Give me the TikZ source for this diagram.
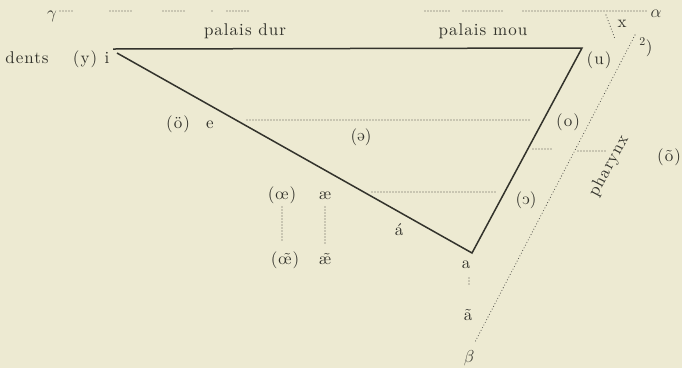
\documentclass[tikz,border=0pt]{standalone}
\usepackage{fontspec}
\usepackage{graphicx}
\newfontfamily\diafont{lmroman10-regular.otf}[LetterSpace=6]
\definecolor{paper}{HTML}{EDEAD2}
\definecolor{ink}{HTML}{33332C}
\begin{document}
\begin{tikzpicture}[x=1pt,y=-1pt,
  lab/.style={inner sep=0pt, anchor=base, text=ink, font=\diafont\fontsize{17}{20}\selectfont},
  edge/.style={draw=ink, line width=1.5pt, line join=miter},
  dots/.style={draw=ink!85, line width=1.1pt, line cap=round, dash pattern=on 0pt off 3pt},
]
\fill[paper] (0,0) rectangle (682,368);
\useasboundingbox (0,0) rectangle (682,368);

% triangle
\coordinate (Itop) at (113,49);
\coordinate (Ibot) at (117,53);
\coordinate (U) at (582,48);
\coordinate (A) at (472,253);
\draw[edge] (Itop) -- (U) -- (A) -- (Ibot);

% labels
\node[lab] (dents) at (27,63) {dents};
\node[lab] (y) at (85,63) {(y)};
\node[lab] (i) at (107,63) {i};
\node[lab] (pdur) at (245,35) {palais dur};
\node[lab] (pmou) at (483,35) {palais mou};
\node[lab] (gamma) at (52,18) {$\gamma$};
\node[lab] (alpha) at (656,17) {$\alpha$};
\node[lab] (xx) at (622,27) {x};
\node[lab] (two) at (646,52) {\textsuperscript{2})};
\node[lab] (u) at (599,64) {(u)};
\node[lab] (o) at (568,126) {(o)};
\node[lab] (otilde) at (669,161) {(\~o)};
\node[lab] (oumlaut) at (178,128) {(\"o)};
\node[lab] (e) at (210,128) {e};
\node[lab] (schwa) at (361,141) {(\rotatebox[origin=c]{180}{e})};
\node[lab] (oe) at (282,199) {(\oe)};
\node[lab] (ae) at (325,199) {\ae};
\node[lab] (openo) at (526,204) {(\reflectbox{c})};
\node[lab] (aacute) at (399,235) {\'a};
\node[lab] (oetilde) at (285,264) {(\~{\oe})};
\node[lab] (aetilde) at (325,264) {\~{\ae}};
\node[lab] (a) at (466,268) {a};
\node[lab] (atilde) at (468,320) {\~a};
\node[lab] (beta) at (469,362) {$\beta$};
\node[lab, rotate=62, anchor=center] (phar) at (609,166) {pharynx};

% top dotted line
\foreach \s/\t in {60/75,110/133,163/187,212/214,227/250,425/450,463/503,523/647}
  \draw[dots] (\s,11) -- (\t,11);
% x line and pharynx line
\coordinate (xa) at (606,15); \coordinate (xb) at (615,39);
\draw[dots] (xa) -- (xb);
\coordinate (ph1) at (635,35); \coordinate (ph2) at (475,342);
\draw[dots] (ph1) -- (ph2);
% horizontal dotted lines
\coordinate (s1) at (247,120); \coordinate (s2) at (530,120);
\draw[dots] (s1) -- (s2);
\coordinate (c1) at (372,192); \coordinate (c2) at (497,192);
\draw[dots] (c1) -- (c2);
\coordinate (t1) at (533,149); \coordinate (t2) at (552,149);
\coordinate (t3) at (578,151); \coordinate (t4) at (605,151);
\draw[dots] (t1) -- (t2);
\draw[dots] (t3) -- (t4);
% vertical dotted lines
\draw[dots] (282,207) -- (282,242);
\draw[dots] (325,207) -- (325,243);
\draw[dots] (469,278) -- (469,287);
\end{tikzpicture}
\end{document}
